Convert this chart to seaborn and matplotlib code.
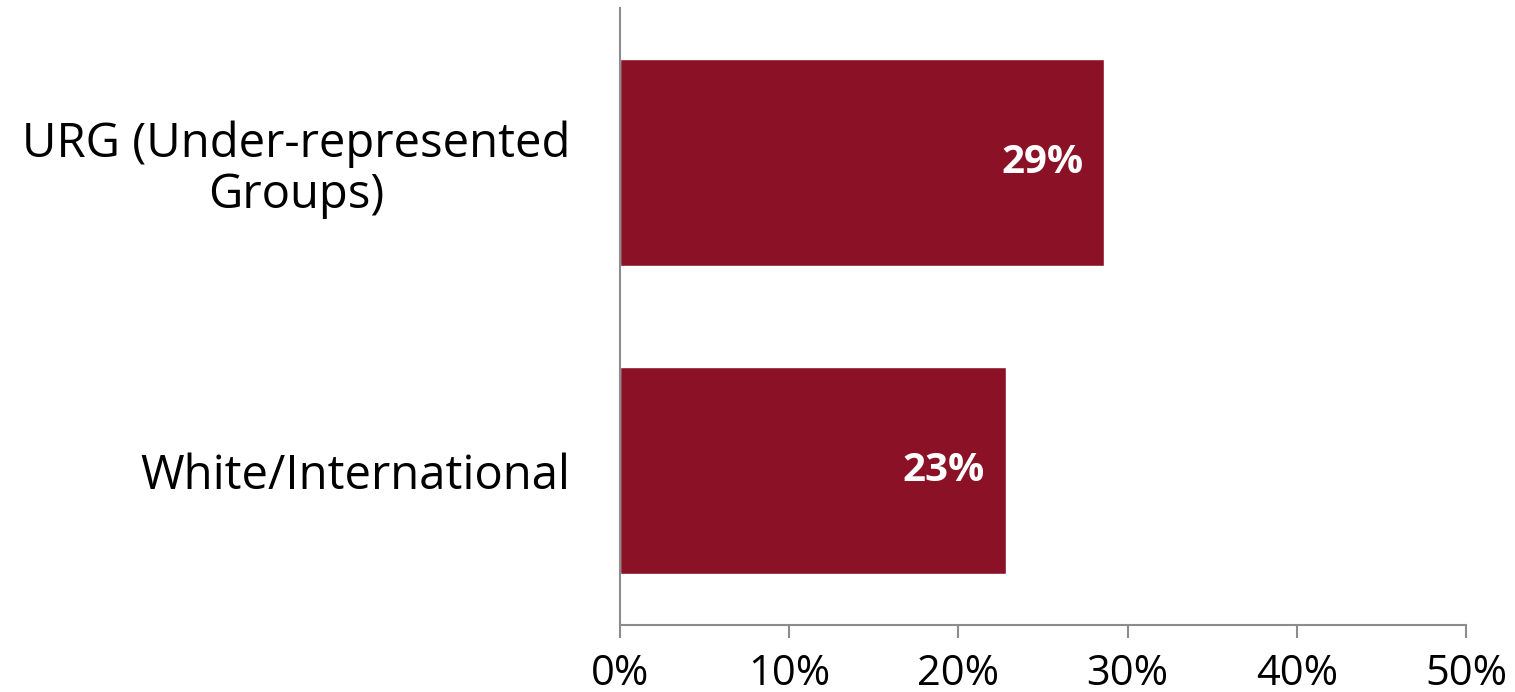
import pandas as pd
import seaborn as sns
import matplotlib.pyplot as plt
from matplotlib.ticker import PercentFormatter

groups = ["URG (Under-represented\nGroups)", "White/International"]
shares = [28.6, 22.8]
bar_labels = ["29%", "23%"]

df = pd.DataFrame({"group": groups, "share": shares})

sns.set_theme(style="white")
plt.rcParams["font.family"] = ["Open Sans", "DejaVu Sans"]

fig = plt.figure(figsize=(15.15, 6.92), dpi=100)
ax = fig.add_axes([0.4092, 0.0968, 0.5585, 0.8916])

sns.barplot(data=df, x="share", y="group", color="#8B1226",
            saturation=1, width=0.67, ax=ax)

ax.set_xlim(0, 50)
ax.set_ylim(1.5, -0.5)
ax.set_xticks(range(0, 51, 10))
ax.xaxis.set_major_formatter(PercentFormatter(decimals=0))
ax.set_xlabel("")
ax.set_ylabel("")

for s in ["top", "right"]:
    ax.spines[s].set_visible(False)
for s in ["left", "bottom"]:
    ax.spines[s].set_color("#8c8c8c")
    ax.spines[s].set_linewidth(1.5)

ax.tick_params(axis="x", bottom=True, length=9, width=1.5, color="#8c8c8c",
               labelsize=30, pad=11, labelcolor="black")
ax.tick_params(axis="y", left=False, labelsize=34, pad=30, labelcolor="black")
for lab in ax.get_yticklabels():
    lab.set_multialignment("center")
    lab.set_linespacing(1.1)

for i, (v, t) in enumerate(zip(shares, bar_labels)):
    ax.annotate(t, xy=(v, i), xytext=(-15, 0), textcoords="offset points",
                ha="right", va="center", color="white", fontsize=29,
                fontweight="bold")

plt.savefig("out.png", dpi=100)
